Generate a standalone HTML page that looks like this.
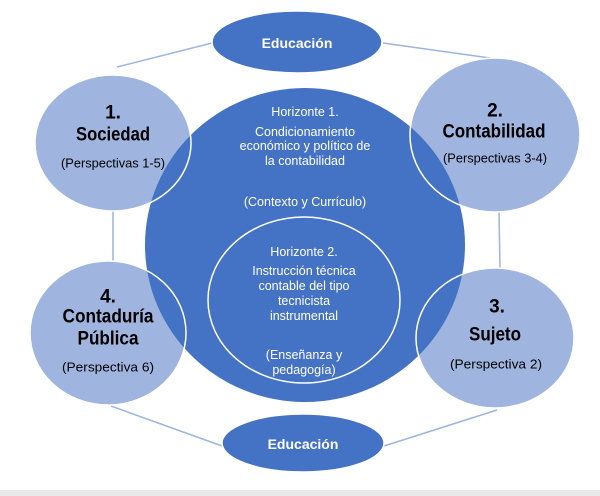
<!DOCTYPE html>
<html><head><meta charset="utf-8"><style>
html,body{margin:0;padding:0;background:#fff;width:600px;height:496px;overflow:hidden}
svg{display:block}
text{font-family:"Liberation Sans",sans-serif;text-anchor:middle;dominant-baseline:central}
.w{fill:#fff;font-size:12.5px}
.b{fill:#000;font-weight:bold;font-size:19px}
.p{fill:#000;font-size:13px}
.e{fill:#fff;font-weight:bold;font-size:14px}
</style></head><body>
<svg width="600" height="496" viewBox="0 0 600 496">
<rect x="0" y="490" width="600" height="6" fill="#e8e8e8"/>
<g stroke="#9eb4de" stroke-width="1.5">
<line x1="212" y1="43" x2="117" y2="67"/>
<line x1="383" y1="43" x2="497" y2="59"/>
<line x1="113" y1="211" x2="113" y2="262"/>
<line x1="499" y1="212" x2="500" y2="268"/>
<line x1="111" y1="406" x2="222" y2="446"/>
<line x1="497" y1="410" x2="384" y2="446"/>
</g>
<ellipse cx="297" cy="42" rx="85" ry="31" fill="#4472c4" stroke="#fff" stroke-width="1.5"/>
<ellipse cx="303" cy="443" rx="81" ry="29" fill="#4472c4" stroke="#fff" stroke-width="1.5"/>
<g fill="#9fb5df">
<ellipse cx="113" cy="143" rx="78" ry="68"/>
<ellipse cx="495" cy="135" rx="85" ry="77"/>
<ellipse cx="108" cy="333" rx="78" ry="72"/>
<ellipse cx="495" cy="338" rx="79" ry="70"/>
</g>
<ellipse cx="305" cy="245" rx="160" ry="157" fill="#4472c4"/>
<ellipse cx="304" cy="300" rx="96" ry="83" fill="#4472c4" stroke="#fff" stroke-width="1.5"/>
<g fill="none" stroke="#fff" stroke-width="1.5">
<ellipse cx="113" cy="143" rx="78" ry="68"/>
<ellipse cx="495" cy="135" rx="85" ry="77"/>
<ellipse cx="108" cy="333" rx="78" ry="72"/>
<ellipse cx="495" cy="338" rx="79" ry="70"/>
</g>
<text class="e" x="297" y="43">Educación</text>
<text class="e" x="303" y="444">Educación</text>
<text class="b" x="113" y="113">1.</text>
<text class="b" x="113" y="135" textLength="74" lengthAdjust="spacingAndGlyphs">Sociedad</text>
<text class="p" x="113" y="163" textLength="104" lengthAdjust="spacingAndGlyphs">(Perspectivas 1-5)</text>
<text class="b" x="495" y="111">2.</text>
<text class="b" x="494" y="132" textLength="103" lengthAdjust="spacingAndGlyphs">Contabilidad</text>
<text class="p" x="495" y="158" textLength="104" lengthAdjust="spacingAndGlyphs">(Perspectivas 3-4)</text>
<text class="b" x="108" y="297">4.</text>
<text class="b" x="108" y="317" textLength="91" lengthAdjust="spacingAndGlyphs">Contaduría</text>
<text class="b" x="108" y="339" textLength="61" lengthAdjust="spacingAndGlyphs">Pública</text>
<text class="p" x="108" y="367" textLength="92" lengthAdjust="spacingAndGlyphs">(Perspectiva 6)</text>
<text class="b" x="497" y="307">3.</text>
<text class="b" x="495" y="335" textLength="52" lengthAdjust="spacingAndGlyphs">Sujeto</text>
<text class="p" x="496" y="364" textLength="92" lengthAdjust="spacingAndGlyphs">(Perspectiva 2)</text>
<text class="w" x="305" y="112">Horizonte 1.</text>
<text class="w" x="305" y="132">Condicionamiento</text>
<text class="w" x="305" y="146">económico y político de</text>
<text class="w" x="305" y="161">la contabilidad</text>
<text class="w" x="305" y="202">(Contexto y Currículo)</text>
<text class="w" x="304" y="252">Horizonte 2.</text>
<text class="w" x="304" y="271">Instrucción técnica</text>
<text class="w" x="304" y="286">contable del tipo</text>
<text class="w" x="304" y="301">tecnicista</text>
<text class="w" x="304" y="316">instrumental</text>
<text class="w" x="304" y="355">(Enseñanza y</text>
<text class="w" x="304" y="370">pedagogía)</text>
</svg>
</body></html>
